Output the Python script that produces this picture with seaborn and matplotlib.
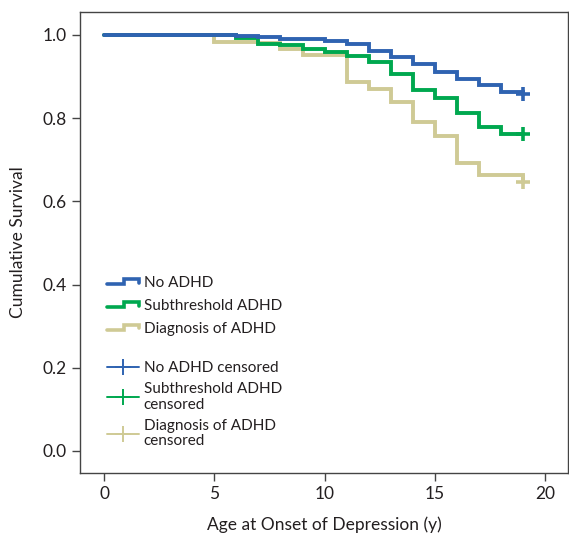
import numpy as np
import pandas as pd
import seaborn as sns
import matplotlib
matplotlib.use("Agg")
import matplotlib.pyplot as plt
from matplotlib.lines import Line2D
from matplotlib.legend_handler import HandlerBase

# Kaplan-Meier style step values (steps at whole years)
ages = list(range(0, 20))
surv_no_adhd = [1.0, 1.0, 1.0, 1.0, 1.0, 1.0, 0.997, 0.994, 0.991, 0.989,
                0.986, 0.979, 0.962, 0.946, 0.930, 0.911, 0.894, 0.879, 0.863, 0.859]
surv_subthreshold = [1.0, 1.0, 1.0, 1.0, 1.0, 1.0, 0.992, 0.979, 0.975, 0.967,
                     0.958, 0.949, 0.934, 0.907, 0.867, 0.849, 0.813, 0.778, 0.761, 0.761]
surv_diagnosis = [1.0, 1.0, 1.0, 1.0, 1.0, 0.984, 0.984, 0.981, 0.967, 0.952,
                  0.952, 0.886, 0.871, 0.839, 0.790, 0.758, 0.693, 0.663, 0.663, 0.647]
groups = ["No ADHD", "Subthreshold ADHD", "Diagnosis of ADHD"]
censor_labels = ["No ADHD censored", "Subthreshold ADHD\ncensored", "Diagnosis of ADHD\ncensored"]
colors = ["#2f63b1", "#00a84f", "#cfca95"]

df = pd.concat([
    pd.DataFrame({"age": ages, "surv": s, "group": g})
    for g, s in zip(groups, [surv_no_adhd, surv_subthreshold, surv_diagnosis])
], ignore_index=True)

sns.set_style("ticks")
plt.rcParams["font.family"] = ["Lato", "DejaVu Sans"]
plt.rcParams["text.color"] = "#231f20"
plt.rcParams["axes.labelcolor"] = "#231f20"
plt.rcParams["xtick.color"] = "#444444"
plt.rcParams["ytick.color"] = "#444444"
plt.rcParams["xtick.labelcolor"] = "#231f20"
plt.rcParams["ytick.labelcolor"] = "#231f20"

fig = plt.figure(figsize=(5.69, 5.33), dpi=100)
ax = fig.add_axes([80 / 569, 1 - 473 / 533, 488 / 569, 461 / 533])

# draw in reverse so blue sits on top
pal = dict(zip(groups, colors))
for g in groups[::-1]:
    sns.lineplot(data=df[df.group == g], x="age", y="surv", color=pal[g],
                 drawstyle="steps-post", lw=2.8, ax=ax, legend=False,
                 estimator=None, solid_joinstyle="miter")

# censored marks at the end of follow-up
for g, c in zip(groups, colors):
    last = df[df.group == g].iloc[-1]
    ax.plot(last.age, last.surv, marker="+", ms=10, mew=2.6, color=c, ls="none")

ax.set_xlim(-1.1, 21.05)
ax.set_ylim(-0.053, 1.055)
ax.set_xticks([0, 5, 10, 15, 20])
ax.set_yticks([0.0, 0.2, 0.4, 0.6, 0.8, 1.0])
ax.set_yticklabels([f"{v:.1f}" for v in [0.0, 0.2, 0.4, 0.6, 0.8, 1.0]])
ax.tick_params(labelsize=12.5, length=6, width=1.0)
ax.set_xlabel("Age at Onset of Depression (y)", fontsize=12.5, labelpad=10)
ax.set_ylabel("Cumulative Survival", fontsize=12.5, labelpad=12)
for sp in ax.spines.values():
    sp.set_visible(True)
    sp.set_color("#444444")
    sp.set_linewidth(1.0)


class StepHandler(HandlerBase):
    def create_artists(self, legend, orig, xd, yd, w, h, fontsize, trans):
        xs = [-xd, -xd + 0.55 * w, -xd + 0.55 * w, -xd + w, -xd + w]
        ys = [-yd + 0.25 * h, -yd + 0.25 * h, -yd + 0.75 * h, -yd + 0.75 * h, -yd + 0.4 * h]
        ln = Line2D(xs, ys, color=orig.get_color(), lw=2.6, solid_joinstyle="miter",
                    transform=trans)
        return [ln]


step_handles = [Line2D([], [], color=c) for c in colors]
leg1 = ax.legend(step_handles, groups, loc="upper left", bbox_to_anchor=(0.055, 0.427),
                 frameon=False, fontsize=11, handlelength=2.1, handletextpad=0.3,
                 labelspacing=0.57, borderpad=0, borderaxespad=0,
                 handler_map={Line2D: StepHandler()})
ax.add_artist(leg1)

cens_handles = [Line2D([], [], color=c, lw=1.4, marker="+", ms=11, mew=1.4) for c in colors]
leg2 = ax.legend(cens_handles, censor_labels, loc="upper left", bbox_to_anchor=(0.055, 0.242),
                 frameon=False, fontsize=11, handlelength=2.1, handletextpad=0.3,
                 labelspacing=0.45, borderpad=0, borderaxespad=0)
for t in leg2.get_texts():
    t.set_linespacing(1.15)

fig.savefig("out.png", dpi=100)
